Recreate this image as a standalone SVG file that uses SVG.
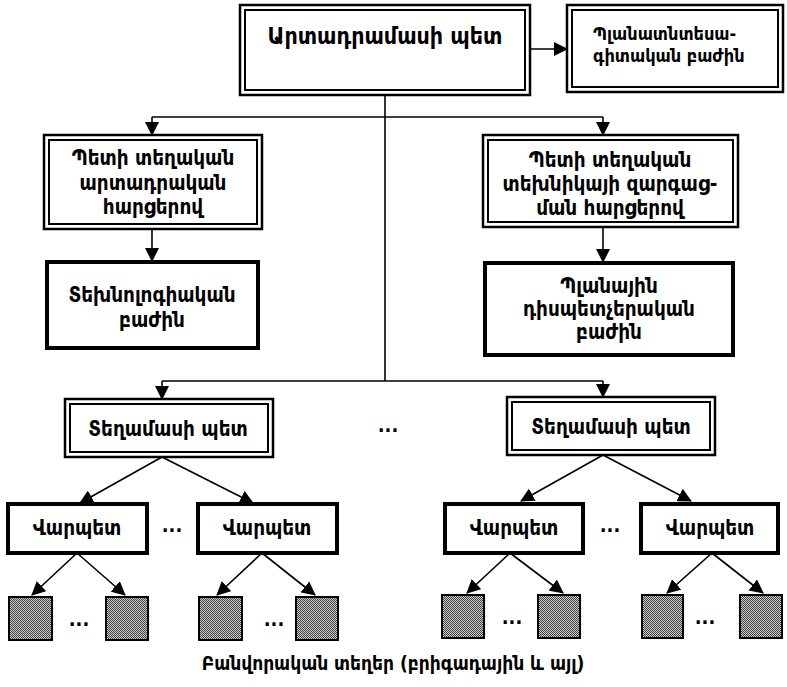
<svg xmlns="http://www.w3.org/2000/svg" width="787" height="687" viewBox="0 0 787 687">
<defs>
<marker id="ah" markerUnits="userSpaceOnUse" markerWidth="14" markerHeight="14" viewBox="0 0 14 14" refX="13" refY="7" orient="auto">
<path d="M0,0 L14,7 L0,14 Z" fill="#000"/>
</marker>
<pattern id="dither" width="2" height="2" patternUnits="userSpaceOnUse">
<rect width="2" height="2" fill="#c8c8c8"/>
<rect width="1" height="1" fill="#444"/>
<rect x="1" y="1" width="1" height="1" fill="#444"/>
</pattern>
<style>
.o{fill:#fff;stroke:#000;stroke-width:2.5}
.i{fill:none;stroke:#000;stroke-width:2}
.t{fill:#fff;stroke:#000;stroke-width:4}
.sq{fill:url(#dither);stroke:#000;stroke-width:2}
.c{fill:none;stroke:#000;stroke-width:1.6}
.a{fill:none;stroke:#000;stroke-width:1.6;marker-end:url(#ah)}
text{font-family:"DejaVu Sans Condensed","DejaVu Sans",sans-serif;font-stretch:condensed;font-weight:bold;fill:#000}
.m{text-anchor:middle;font-size:20.5px}
.d{text-anchor:middle;font-size:20px;font-weight:bold}
</style>
</defs>
<g id="connectors">
<line class="a" x1="530" y1="49" x2="567" y2="49"/>
<line class="c" x1="385" y1="95" x2="385" y2="381"/>
<polyline class="c" points="152,117 603,117"/>
<line class="a" x1="152" y1="117" x2="152" y2="135"/>
<line class="a" x1="603" y1="117" x2="603" y2="135"/>
<line class="a" x1="152" y1="229" x2="152" y2="261"/>
<line class="a" x1="603" y1="227" x2="603" y2="262"/>
<polyline class="c" points="162,381 603,381"/>
<line class="a" x1="162" y1="381" x2="162" y2="399"/>
<line class="a" x1="603" y1="381" x2="603" y2="397"/>
<line class="a" x1="162" y1="457" x2="80" y2="503"/>
<line class="a" x1="162" y1="457" x2="253" y2="503"/>
<line class="a" x1="603" y1="455" x2="521" y2="501"/>
<line class="a" x1="603" y1="455" x2="691" y2="501"/>
<line class="a" x1="77" y1="553" x2="32" y2="595"/>
<line class="a" x1="77" y1="553" x2="125" y2="595"/>
<line class="a" x1="262" y1="553" x2="217" y2="595"/>
<line class="a" x1="262" y1="553" x2="315" y2="595"/>
<line class="a" x1="510" y1="553" x2="467" y2="593"/>
<line class="a" x1="510" y1="553" x2="563" y2="593"/>
<line class="a" x1="712" y1="553" x2="667" y2="593"/>
<line class="a" x1="712" y1="553" x2="763" y2="593"/>
</g>
<g id="n-top">
<rect class="o" x="240" y="5" width="290" height="90"/>
<rect class="i" x="245" y="10" width="280" height="80"/>
<text x="385" y="44" text-anchor="middle" font-size="23">Արտադրամասի պետ</text>
</g>
<g id="n-plan">
<rect class="o" x="567" y="5" width="216" height="87"/>
<rect class="i" x="572" y="10" width="206" height="77"/>
<text x="593" y="40" font-size="18">Պլանատնտեսա-</text>
<text x="593" y="62" font-size="18">գիտական բաժին</text>
</g>
<g id="n-left-dep">
<rect class="o" x="44" y="135" width="218" height="94"/>
<rect class="i" x="49" y="140" width="208" height="84"/>
<text class="m" x="153" y="165">Պետի տեղական</text>
<text class="m" x="153" y="190">արտադրական</text>
<text class="m" x="153" y="214">հարցերով</text>
</g>
<g id="n-tech">
<rect class="t" x="47" y="262" width="211" height="86"/>
<text class="m" x="152" y="302">Տեխնոլոգիական</text>
<text class="m" x="152" y="327">բաժին</text>
</g>
<g id="n-right-dep">
<rect class="o" x="483" y="135" width="255" height="92"/>
<rect class="i" x="488" y="140" width="245" height="82"/>
<text class="m" x="610" y="167">Պետի տեղական</text>
<text class="m" x="610" y="191">տեխնիկայի զարգաց-</text>
<text class="m" x="610" y="215">ման հարցերով</text>
</g>
<g id="n-dispatch">
<rect class="t" x="485" y="263" width="248" height="92"/>
<text class="m" x="609" y="293">Պլանային</text>
<text class="m" x="609" y="316">դիսպետչերական</text>
<text class="m" x="609" y="339">բաժին</text>
</g>
<g id="n-sec1">
<rect class="o" x="65" y="399" width="208" height="58"/>
<rect class="i" x="70" y="404" width="198" height="48"/>
<text class="m" x="168" y="436">Տեղամասի պետ</text>
</g>
<text class="d" x="388" y="432">...</text>
<g id="n-sec2">
<rect class="o" x="507" y="397" width="208" height="58"/>
<rect class="i" x="512" y="402" width="198" height="48"/>
<text class="m" x="611" y="434">Տեղամասի պետ</text>
</g>
<g id="n-f1">
<rect class="t" x="8" y="504" width="139" height="49"/>
<text class="m" x="77" y="535">Վարպետ</text>
</g>
<text class="d" x="172" y="532">...</text>
<g id="n-f2">
<rect class="t" x="198" y="504" width="139" height="49"/>
<text class="m" x="267" y="535">Վարպետ</text>
</g>
<g id="n-f3">
<rect class="t" x="445" y="504" width="138" height="49"/>
<text class="m" x="514" y="535">Վարպետ</text>
</g>
<text class="d" x="610" y="532">...</text>
<g id="n-f4">
<rect class="t" x="641" y="504" width="137" height="49"/>
<text class="m" x="710" y="535">Վարպետ</text>
</g>
<g id="n-w1"><rect class="sq" x="9" y="597" width="43" height="43"/></g>
<text class="d" x="79" y="626">...</text>
<g id="n-w2"><rect class="sq" x="106" y="597" width="42" height="43"/></g>
<g id="n-w3"><rect class="sq" x="199" y="597" width="43" height="43"/></g>
<text class="d" x="274" y="626">...</text>
<g id="n-w4"><rect class="sq" x="296" y="597" width="42" height="43"/></g>
<g id="n-w5"><rect class="sq" x="442" y="595" width="42" height="43"/></g>
<text class="d" x="512" y="624">...</text>
<g id="n-w6"><rect class="sq" x="538" y="595" width="42" height="43"/></g>
<g id="n-w7"><rect class="sq" x="642" y="595" width="41" height="43"/></g>
<text class="d" x="705" y="624">...</text>
<g id="n-w8"><rect class="sq" x="740" y="595" width="42" height="43"/></g>
<text x="393" y="670" text-anchor="middle" font-size="19">Բանվորական տեղեր (բրիգադային և այլ)</text>
</svg>
